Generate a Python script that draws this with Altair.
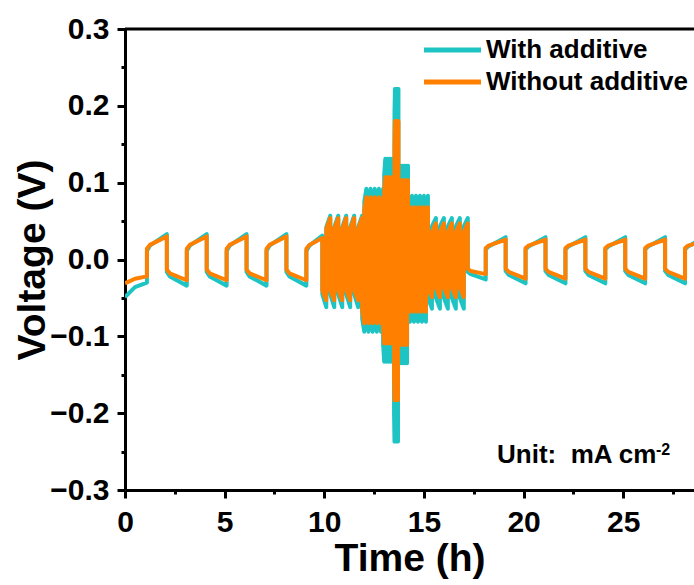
import altair as alt
import pandas as pd

CYAN = "#1ec4c4"
ORANGE = "#ff8000"
FONT = "Liberation Sans"

# ---- slow half-cycles (time in h) ----
slow_start = [0.0, 1.1, 2.1, 3.1, 4.1, 5.1, 6.1, 7.1, 8.1, 9.1,
              17.2, 18.1, 19.1, 20.1, 21.1, 22.1, 23.1, 24.1, 25.1, 26.1, 27.1, 28.1]
slow_mid = [0.5, 1.25, 2.25, 3.25, 4.25, 5.25, 6.25, 7.25, 8.25, 9.25,
            17.35, 18.25, 19.25, 20.25, 21.25, 22.25, 23.25, 24.25, 25.25, 26.25, 27.25, 28.25]
slow_end = [1.1, 2.1, 3.1, 4.1, 5.1, 6.1, 7.1, 8.1, 9.1, 9.9,
            18.1, 19.1, 20.1, 21.1, 22.1, 23.1, 24.1, 25.1, 26.1, 27.1, 28.1, 28.8]

# With additive (V) at start / mid / end of each slow half-cycle
with_s = [-0.049, 0.011, -0.016, 0.011, -0.016, 0.011, -0.016, 0.011, -0.016, 0.011,
          -0.016, 0.013, -0.015, 0.013, -0.015, 0.013, -0.015, 0.013, -0.015, 0.013, -0.015, 0.013]
with_m = [-0.036, 0.018, -0.022, 0.018, -0.022, 0.018, -0.022, 0.018, -0.022, 0.018,
          -0.019, 0.017, -0.020, 0.017, -0.020, 0.017, -0.020, 0.017, -0.020, 0.017, -0.020, 0.017]
with_e = [-0.030, 0.033, -0.034, 0.033, -0.034, 0.033, -0.034, 0.033, -0.034, 0.031,
          -0.026, 0.029, -0.031, 0.029, -0.031, 0.029, -0.031, 0.029, -0.031, 0.029, -0.031, 0.025]
# Without additive (V)
wo_s = [-0.031, 0.014, -0.013, 0.014, -0.013, 0.014, -0.013, 0.014, -0.013, 0.014,
        -0.012, 0.015, -0.012, 0.015, -0.012, 0.015, -0.012, 0.015, -0.012, 0.015, -0.012, 0.015]
wo_m = [-0.025, 0.019, -0.018, 0.019, -0.018, 0.019, -0.018, 0.019, -0.018, 0.019,
        -0.015, 0.018, -0.016, 0.018, -0.016, 0.018, -0.016, 0.018, -0.016, 0.018, -0.016, 0.018]
wo_e = [-0.022, 0.030, -0.027, 0.030, -0.027, 0.030, -0.027, 0.030, -0.027, 0.028,
        -0.019, 0.026, -0.025, 0.026, -0.025, 0.026, -0.025, 0.026, -0.025, 0.026, -0.025, 0.022]

# ---- high-rate blocks (time in h, 5 cycles each) ----
dense_start = [9.9, 11.9, 12.95, 13.5, 13.72, 14.2, 15.2]
dense_end = [11.9, 12.95, 13.5, 13.72, 14.2, 15.2, 17.2]
dense_cycles = [5, 5, 5, 5, 5, 5, 5]
with_pos_lo = [0.042, 0.075, 0.110, 0.190, 0.100, 0.068, 0.043]
with_pos_hi = [0.057, 0.092, 0.131, 0.222, 0.122, 0.083, 0.054]
with_neg_lo = [-0.045, -0.077, -0.110, -0.200, -0.110, -0.066, -0.050]
with_neg_hi = [-0.062, -0.094, -0.133, -0.237, -0.135, -0.081, -0.064]
wo_pos_lo = [0.040, 0.065, 0.090, 0.150, 0.085, 0.055, 0.036]
wo_pos_hi = [0.054, 0.081, 0.107, 0.180, 0.103, 0.068, 0.047]
wo_neg_lo = [-0.040, -0.066, -0.090, -0.150, -0.090, -0.055, -0.037]
wo_neg_hi = [-0.053, -0.083, -0.109, -0.183, -0.111, -0.068, -0.049]

x_ticks = [0, 2.5, 5, 7.5, 10, 12.5, 15, 17.5, 20, 22.5, 25, 27.5]
y_ticks = [-0.3, -0.25, -0.2, -0.15, -0.1, -0.05, 0.0, 0.05, 0.1, 0.15, 0.2, 0.25, 0.3]


def build(s, m, e, plo, phi, nlo, nhi):
    pts = []
    for i in range(10):
        pts += [(slow_start[i], s[i]), (slow_mid[i], m[i]), (slow_end[i], e[i])]
    for j in range(len(dense_start)):
        dt = (dense_end[j] - dense_start[j]) / (2 * dense_cycles[j])
        for c in range(dense_cycles[j]):
            t = dense_start[j] + 2 * c * dt
            pts += [(t, nlo[j]), (t + dt, nhi[j]), (t + dt, plo[j]), (t + 2 * dt, phi[j])]
    for i in range(10, len(slow_start)):
        pts += [(slow_start[i], s[i]), (slow_mid[i], m[i]), (slow_end[i], e[i])]
    return pd.DataFrame({"t": [p[0] for p in pts], "v": [p[1] for p in pts],
                         "i": list(range(len(pts)))})


df_with = build(with_s, with_m, with_e, with_pos_lo, with_pos_hi, with_neg_lo, with_neg_hi)
df_wo = build(wo_s, wo_m, wo_e, wo_pos_lo, wo_pos_hi, wo_neg_lo, wo_neg_hi)

W, H = 569, 461

x_enc = alt.X(
    "t:Q",
    scale=alt.Scale(domain=[0, 28.55], nice=False, zero=False),
    axis=alt.Axis(
        title="Time (h)", values=x_ticks,
        labelExpr="datum.value % 5 === 0 ? format(datum.value, 'd') : ''",
        tickSize={"condition": {"test": "datum.value % 5 !== 0", "value": 4}, "value": 8},
        labelPadding=9, labelFlush=False, labelOverlap=False,
        titleY=80, titleBaseline="alphabetic", titleX=W / 2, titleAlign="center",
    ),
)
y_enc = alt.Y(
    "v:Q",
    scale=alt.Scale(domain=[-0.3, 0.3], nice=False, zero=False),
    axis=alt.Axis(
        title="Voltage (V)", values=y_ticks,
        labelExpr="round(datum.value * 100) % 10 === 0 ? format(datum.value, '.1f') : ''",
        tickSize={"condition": {"test": "round(datum.value * 100) % 10 !== 0", "value": 4}, "value": 8},
        labelPadding=8, labelFlush=False, labelOverlap=False,
        titleX=-112, titleY=H / 2, titleAlign="center", titleBaseline="top", titleAngle=270,
    ),
)

line_with = alt.Chart(df_with).mark_line(
    color=CYAN, strokeWidth=4, strokeJoin="round", clip=True
).encode(x=x_enc, y=y_enc, order="i:Q")
line_wo = alt.Chart(df_wo).mark_line(
    color=ORANGE, strokeWidth=4, strokeJoin="round", clip=True
).encode(x=x_enc, y=y_enc, order="i:Q")

one = alt.Data(values=[{}])
top_border = alt.Chart(one).mark_rule(color="black", strokeWidth=3).encode(
    x=alt.value(0), x2=alt.value(W), y=alt.value(0))

leg_rule1 = alt.Chart(one).mark_rule(color=CYAN, strokeWidth=5).encode(
    x=alt.value(299), x2=alt.value(356), y=alt.value(21))
leg_rule2 = alt.Chart(one).mark_rule(color=ORANGE, strokeWidth=5).encode(
    x=alt.value(299), x2=alt.value(356), y=alt.value(53))
leg_text1 = alt.Chart(one).mark_text(
    text="With additive", align="left", baseline="middle", font=FONT,
    fontWeight="bold", fontSize=26, color="black").encode(x=alt.value(361), y=alt.value(21))
leg_text2 = alt.Chart(one).mark_text(
    text="Without additive", align="left", baseline="middle", font=FONT,
    fontWeight="bold", fontSize=26, color="black").encode(x=alt.value(361), y=alt.value(53))
unit_text = alt.Chart(one).mark_text(
    text="Unit:\u00a0 mA cm", align="left", baseline="alphabetic", font=FONT,
    fontWeight="bold", fontSize=26, color="black").encode(x=alt.value(372), y=alt.value(434))
unit_sup = alt.Chart(one).mark_text(
    text="-2", align="left", baseline="alphabetic", font=FONT,
    fontWeight="bold", fontSize=16, color="black").encode(x=alt.value(531), y=alt.value(426))

chart = alt.layer(
    line_with, line_wo, top_border,
    leg_rule1, leg_rule2, leg_text1, leg_text2, unit_text, unit_sup,
).properties(
    width=W, height=H,
    autosize=alt.AutoSizeParams(type="none"),
    padding={"left": 125, "top": 29, "right": 0, "bottom": 95},
).configure_view(stroke=None).configure_axis(
    grid=False, domainColor="black", domainWidth=3, tickColor="black", tickWidth=3,
    labelFont=FONT, labelFontWeight="bold", labelFontSize=30, labelColor="black",
    titleFont=FONT, titleFontWeight="bold", titleFontSize=39, titleColor="black",
)

chart.save("out.html", embed_options={"renderer": "svg", "actions": False})
